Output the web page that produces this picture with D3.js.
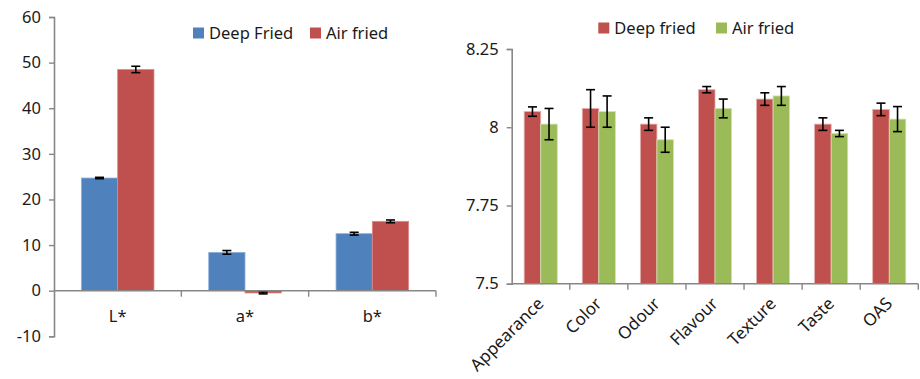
<!DOCTYPE html>
<html><head><meta charset="utf-8">
<script src="https://cdn.jsdelivr.net/npm/d3@7"></script>
<style>body{margin:0;background:#fff}svg{display:block}text{font-family:"Noto Sans",sans-serif;fill:#1a1a1a}</style>
</head><body><svg id="c" width="920" height="379"></svg>
<script>
// Left chart data
const colorCats = ["L*", "a*", "b*"];
const colorSeries = ["Deep Fried", "Air fried"];
const colorDeep = [24.7, 8.4, 12.5];
const colorDeepErr = [0.15, 0.4, 0.3];
const colorAir = [48.5, -0.5, 15.2];
const colorAirErr = [0.7, 0.2, 0.3];
const colorTicks = [-10, 0, 10, 20, 30, 40, 50, 60];

// Right chart data
const sensCats = ["Appearance", "Color", "Odour", "Flavour", "Texture", "Taste", "OAS"];
const sensSeries = ["Deep fried", "Air fried"];
const sensDeep = [8.05, 8.06, 8.01, 8.12, 8.09, 8.01, 8.057];
const sensDeepErr = [0.015, 0.06, 0.02, 0.01, 0.02, 0.02, 0.02];
const sensAir = [8.01, 8.05, 7.96, 8.06, 8.10, 7.98, 8.026];
const sensAirErr = [0.05, 0.05, 0.04, 0.03, 0.03, 0.01, 0.04];
const sensTicks = [7.5, 7.75, 8, 8.25];
const sensTickLabels = ["7.5", "7.75", "8", "8.25"];

const svg = d3.select("#c");
const AX = "#878787";

function chart(o) {
  const g = svg.append("g");
  const x = d3.scaleBand().domain(o.cats).range([o.x0, o.x1]);
  const y = d3.scaleLinear().domain(o.domain).range([o.yBottom, o.yTop]);
  const gw = x.bandwidth() * 0.57;
  const xs = d3.scaleBand().domain([0, 1]).range([(x.bandwidth() - gw) / 2, (x.bandwidth() + gw) / 2]);
  const data = [];
  o.cats.forEach((c, i) => {
    data.push({c, s: 0, v: o.v0[i], e: o.e0[i]});
    data.push({c, s: 1, v: o.v1[i], e: o.e1[i]});
  });
  const base = y(o.baseVal);
  g.selectAll("rect.bar").data(data).join("rect")
    .attr("x", d => x(d.c) + xs(d.s))
    .attr("width", xs.bandwidth())
    .attr("y", d => Math.min(y(d.v), base))
    .attr("height", d => Math.abs(base - y(d.v)))
    .attr("fill", d => o.colors[d.s])
    .attr("stroke", d => o.edge[d.s]).attr("stroke-width", 0.8);
  // error bars
  const eb = g.selectAll("g.eb").data(data).join("g")
    .attr("stroke", "#000").attr("stroke-width", 1.6);
  eb.append("line")
    .attr("x1", d => x(d.c) + xs(d.s) + xs.bandwidth() / 2)
    .attr("x2", d => x(d.c) + xs(d.s) + xs.bandwidth() / 2)
    .attr("y1", d => y(d.v - d.e)).attr("y2", d => y(d.v + d.e));
  [-1, 1].forEach(k => {
    eb.append("line")
      .attr("x1", d => x(d.c) + xs(d.s) + xs.bandwidth() / 2 - 4.5)
      .attr("x2", d => x(d.c) + xs(d.s) + xs.bandwidth() / 2 + 4.5)
      .attr("y1", d => y(d.v + k * d.e)).attr("y2", d => y(d.v + k * d.e));
  });
  // y axis
  const ya = g.append("g").attr("transform", `translate(${o.x0},0)`)
    .call(d3.axisLeft(y).tickValues(o.ticks).tickSize(5).tickPadding(8)
      .tickFormat((d, i) => o.tickLabels ? o.tickLabels[i] : d));
  ya.select(".domain").attr("stroke", AX).attr("stroke-width", 1.6);
  ya.selectAll(".tick line").attr("stroke", AX).attr("stroke-width", 1.4);
  ya.selectAll(".tick text").style("font-size", "16.5px").attr("fill", "#1a1a1a");
  // x axis line
  const xa = g.append("g");
  xa.append("line").attr("x1", o.x0).attr("x2", o.x1).attr("y1", base).attr("y2", base)
    .attr("stroke", AX).attr("stroke-width", 1.6);
  o.cats.forEach((c, i) => {
    const xx = x(c) + x.bandwidth();
    xa.append("line").attr("x1", xx).attr("x2", xx).attr("y1", base).attr("y2", base + 6)
      .attr("stroke", AX).attr("stroke-width", 1.4);
  });
  // category labels
  if (o.rotate) {
    g.selectAll("text.cat").data(o.cats).join("text")
      .attr("transform", d => `translate(${x(d) + x.bandwidth() / 2 + 4},${o.yBottom + 21}) rotate(-45)`)
      .attr("text-anchor", "end").style("font-size", "17px").text(d => d);
  } else {
    g.selectAll("text.cat").data(o.cats).join("text")
      .attr("x", d => x(d) + x.bandwidth() / 2).attr("y", o.catY)
      .attr("text-anchor", "middle").style("font-size", "16.5px").text(d => d);
  }
  // legend
  o.series.forEach((s, i) => {
    const lx = o.legX[i];
    g.append("rect").attr("x", lx).attr("y", o.legY - 11).attr("width", 11).attr("height", 11)
      .attr("fill", o.colors[i]);
    g.append("text").attr("x", lx + 16).attr("y", o.legY).style("font-size", "16.5px").text(s);
  });
}

chart({
  cats: colorCats, series: colorSeries, v0: colorDeep, e0: colorDeepErr, v1: colorAir, e1: colorAirErr,
  x0: 54, x1: 436, yTop: 17, yBottom: 336.3, domain: [-10, 60], baseVal: 0,
  ticks: colorTicks, colors: ["#4F81BD", "#C0504D"], edge: ["#8fb0da", "#d98a88"],
  catY: 322, legX: [193, 310], legY: 38.5
});
chart({
  cats: sensCats, series: sensSeries, v0: sensDeep, e0: sensDeepErr, v1: sensAir, e1: sensAirErr,
  x0: 511.7, x1: 918.3, yTop: 49, yBottom: 283.7, domain: [7.5, 8.25], baseVal: 7.5,
  ticks: sensTicks, tickLabels: sensTickLabels, colors: ["#C0504D", "#9BBB59"], edge: ["#e6b0ae", "#d2e2b3"],
  rotate: true, legX: [598.3, 716], legY: 33.5
});
</script></body></html>
